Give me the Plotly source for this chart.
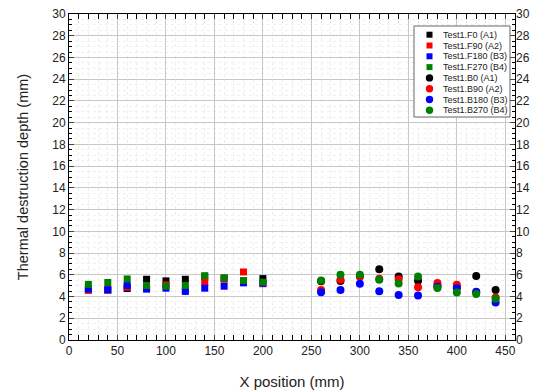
import plotly.graph_objects as go

x_front = [20, 40, 60, 80, 100, 120, 140, 160, 180, 200]
x_back = [260, 280, 300, 320, 340, 360, 380, 400, 420, 440]

F0 = [4.59, 4.6, 4.74, 5.59, 5.44, 5.59, 5.8, 5.7, 5.4, 5.65]
F90 = [4.62, 4.62, 4.86, 4.8, 5.08, 4.6, 5.3, 5.6, 6.26, 5.18]
F180 = [4.71, 4.62, 5.02, 4.68, 4.77, 4.47, 4.77, 4.95, 5.26, 5.22]
F270 = [5.12, 5.29, 5.62, 5.02, 4.95, 5.02, 5.92, 5.71, 5.47, 5.32]

B0 = [5.4, 5.42, 5.9, 6.52, 5.85, 5.45, 5.0, 4.9, 5.88, 4.6]
B90 = [4.6, 5.55, 5.82, 5.64, 5.6, 4.85, 5.24, 5.09, 4.4, 3.9]
B180 = [4.39, 4.6, 5.18, 4.48, 4.15, 4.09, 4.9, 4.76, 4.45, 3.45]
B270 = [5.48, 6.0, 6.0, 5.55, 5.21, 5.85, 4.79, 4.36, 4.24, 3.8]

names_front = ["Test1.F0 (A1)", "Test1.F90 (A2)", "Test1.F180 (B3)", "Test1.F270 (B4)"]
names_back = ["Test1.B0 (A1)", "Test1.B90 (A2)", "Test1.B180 (B3)", "Test1.B270 (B4)"]
colors = ["#000000", "#ff0000", "#0000ff", "#008000"]

W, H = 545, 392
ML, MR, MT, MB = 69, 30, 14, 52
PW, PH = W - ML - MR, H - MT - MB

def px(xp):
    return (xp - ML) / PW

def py(yp):
    return 1 - (yp - MT) / PH

fig = go.Figure()
for name, ys, c in zip(names_front, [F0, F90, F180, F270], colors):
    fig.add_trace(go.Scatter(x=x_front, y=ys, mode="markers", name=name, showlegend=False,
                             marker=dict(symbol="square", size=7, color=c, line=dict(width=0))))
for name, ys, c in zip(names_back, [B0, B90, B180, B270], colors):
    fig.add_trace(go.Scatter(x=x_back, y=ys, mode="markers", name=name, showlegend=False,
                             marker=dict(symbol="circle", size=8, color=c, line=dict(width=0))))

fig.add_trace(go.Scatter(x=[None], y=[None], yaxis="y2", showlegend=False))

font = "Liberation Sans, Arial, sans-serif"

# custom legend
shapes = []
annotations = []
shapes.append(dict(type="rect", xref="paper", yref="paper",
                   x0=px(414), x1=px(510), y0=py(117), y1=py(26),
                   line=dict(color="#666666", width=1), fillcolor="white", layer="above"))
all_names = names_front + names_back
for i, name in enumerate(all_names):
    yc = 34.7 + i * 10.8
    c = colors[i % 4]
    if i < 4:
        shapes.append(dict(type="rect", xref="paper", yref="paper",
                           x0=px(426.5), x1=px(432.5), y0=py(yc + 3), y1=py(yc - 3),
                           line=dict(width=0), fillcolor=c, layer="above"))
    else:
        shapes.append(dict(type="circle", xref="paper", yref="paper",
                           x0=px(425.8), x1=px(433.2), y0=py(yc + 3.7), y1=py(yc - 3.7),
                           line=dict(width=0), fillcolor=c, layer="above"))
    annotations.append(dict(text=name, xref="paper", yref="paper", x=px(441), y=py(yc),
                            xanchor="left", yanchor="middle", showarrow=False,
                            font=dict(size=9, family=font, color="#222")))

fig.update_layout(
    width=W, height=H,
    margin=dict(l=ML, r=MR, t=MT, b=MB),
    paper_bgcolor="white", plot_bgcolor="white",
    font=dict(family=font, size=12, color="#222"),
    showlegend=False,
    shapes=shapes, annotations=annotations,
    xaxis=dict(range=[0, 460], dtick=50, tick0=0, ticks="inside", ticklen=5,
               showline=True, linecolor="black", linewidth=1, mirror="allticks",
               showgrid=True, gridcolor="#c8c8c8", gridwidth=1, zeroline=False,
               minor=dict(dtick=10, ticks="inside", ticklen=3, showgrid=True,
                          gridcolor="#eeeeee", griddash="dot", tickcolor="black"),
               title=dict(text="X position (mm)", font=dict(size=15), standoff=19),
               tickfont=dict(size=12), automargin=False),
    yaxis=dict(range=[0, 30], dtick=2, tick0=0, ticks="inside", ticklen=5,
               showline=True, linecolor="black", linewidth=1, mirror=True,
               showgrid=True, gridcolor="#c8c8c8", gridwidth=1, zeroline=False,
               minor=dict(dtick=0.5, ticks="inside", ticklen=3, showgrid=True,
                          gridcolor="#f0f0f0", griddash="dot", tickcolor="black"),
               title=dict(text="Thermal destruction depth (mm)", font=dict(size=14.5), standoff=20),
               tickfont=dict(size=12), automargin=False),
    yaxis2=dict(range=[0, 30], dtick=2, tick0=0, ticks="inside", ticklen=5,
                overlaying="y", side="right", showgrid=False, zeroline=False,
                showline=False,
                minor=dict(dtick=0.5, ticks="inside", ticklen=3, tickcolor="black"),
                tickfont=dict(size=12), automargin=False),
)

fig.write_html("out.html")
